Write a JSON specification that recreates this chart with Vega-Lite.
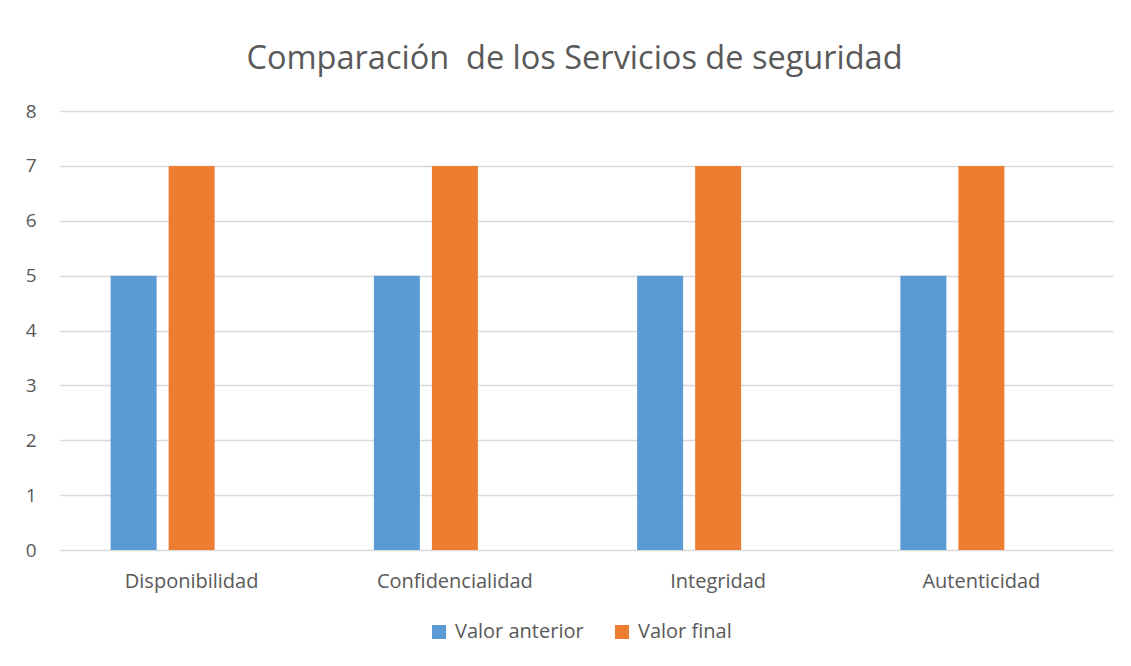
{
  "$schema": "https://vega.github.io/schema/vega-lite/v6.json",
  "autosize": "none",
  "width": 1053,
  "height": 439,
  "padding": {"left": 60, "top": 111, "right": 18, "bottom": 116},
  "background": "white",
  "title": {
    "text": "Comparación\u00a0 de los Servicios de seguridad",
    "anchor": "middle",
    "dx": -12,
    "offset": 27,
    "font": "Open Sans",
    "fontSize": 32.5,
    "fontWeight": "normal",
    "color": "#595959"
  },
  "data": {
    "values": [
      {"servicio": "Disponibilidad", "serie": "Valor anterior", "valor": 5},
      {"servicio": "Disponibilidad", "serie": "Valor final", "valor": 7},
      {"servicio": "Confidencialidad", "serie": "Valor anterior", "valor": 5},
      {"servicio": "Confidencialidad", "serie": "Valor final", "valor": 7},
      {"servicio": "Integridad", "serie": "Valor anterior", "valor": 5},
      {"servicio": "Integridad", "serie": "Valor final", "valor": 7},
      {"servicio": "Autenticidad", "serie": "Valor anterior", "valor": 5},
      {"servicio": "Autenticidad", "serie": "Valor final", "valor": 7}
    ]
  },
  "mark": {"type": "bar"},
  "encoding": {
    "x": {
      "field": "servicio",
      "type": "nominal",
      "sort": ["Disponibilidad", "Confidencialidad", "Integridad", "Autenticidad"],
      "scale": {"paddingInner": 0.3846, "paddingOuter": 0.1923},
      "axis": {
        "title": null,
        "labelAngle": 0,
        "domain": false,
        "ticks": false,
        "labelPadding": 21,
        "labelFont": "Open Sans",
        "labelFontSize": 20,
        "labelColor": "#595959"
      }
    },
    "xOffset": {
      "field": "serie",
      "type": "nominal",
      "scale": {"domain": ["Valor anterior", "Valor final", "Serie3"], "paddingInner": 0.207, "paddingOuter": 0}
    },
    "y": {
      "field": "valor",
      "type": "quantitative",
      "scale": {"domain": [0, 8], "nice": false},
      "axis": {
        "title": null,
        "values": [0, 1, 2, 3, 4, 5, 6, 7, 8],
        "domain": false,
        "ticks": false,
        "labelPadding": 24,
        "labelFont": "Open Sans",
        "labelFontSize": 19,
        "labelColor": "#595959",
        "gridColor": "#d9d9d9",
        "gridWidth": 1.3
      }
    },
    "color": {
      "field": "serie",
      "type": "nominal",
      "scale": {"domain": ["Valor anterior", "Valor final"], "range": ["#5B9BD5", "#ED7D31"]},
      "legend": {
        "title": null,
        "orient": "none",
        "direction": "horizontal",
        "legendX": 369,
        "legendY": 511,
        "symbolType": "square",
        "symbolSize": 196,
        "symbolStrokeWidth": 0,
        "symbolOpacity": 1,
        "labelFont": "Open Sans",
        "labelFontSize": 20,
        "labelColor": "#595959",
        "columnPadding": 28,
        "labelOffset": 6
      }
    }
  },
  "config": {"view": {"stroke": null}}
}
